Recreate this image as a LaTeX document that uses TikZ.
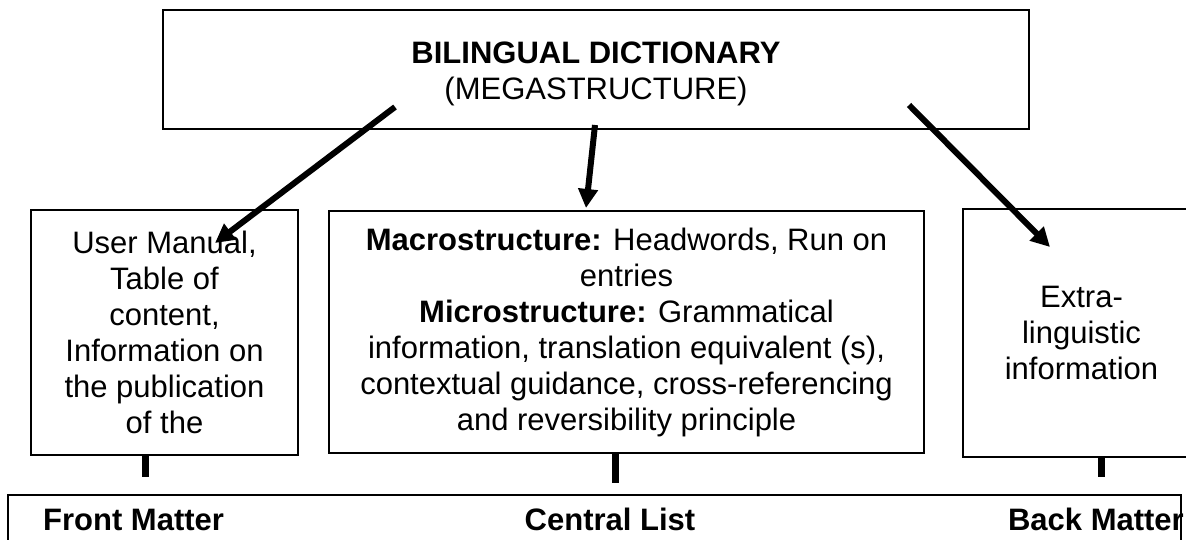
\documentclass[tikz,border=0pt]{standalone}
\usepackage{fontspec}
\setmainfont{Liberation Sans}
\usetikzlibrary{arrows.meta}
\begin{document}
\begin{tikzpicture}[x=1pt,y=-1pt,
  txt/.style={font=\fontsize{31}{36}\selectfont},
  box/.style={draw, line width=2pt, inner sep=0pt, align=center, txt},
  arr/.style={line width=6pt, -{Triangle[length=19pt,width=19pt]}},
  stem/.style={line width=7pt}]
  \clip (0,0) rectangle (1186,540);
  \fill[white] (0,0) rectangle (1186,540);

  % top box
  \node[box, minimum width=866pt, minimum height=119pt] (dict) at (596,69.5)
    {\rule{0pt}{31pt}\textbf{BILINGUAL DICTIONARY}\\(MEGASTRUCTURE)};

  % the three parts
  \node[box, minimum width=267pt, minimum height=245pt] (front) at (164.5,332.5)
    {User Manual,\\Table of\\content,\\Information on\\the publication\\of the};
  \node[box, minimum width=595pt, minimum height=242pt] (central) at (626.5,332)
    {\textbf{Macrostructure:} Headwords, Run on\\entries\\\textbf{Microstructure:} Grammatical\\information, translation equivalent (s),\\contextual guidance, cross-referencing\\and reversibility principle};
  \node[box, minimum width=237pt, minimum height=248pt] (back) at (1081.5,333)
    {Extra-\\linguistic\\information};

  % bottom band
  \node[draw, line width=2pt, inner sep=0pt, minimum width=1173pt, minimum height=100pt,
        anchor=north west] (band) at (7,494) {};
  \node[txt, font=\fontsize{31}{36}\selectfont\bfseries, anchor=base west, inner sep=0pt] (fm) at (43,530) {Front Matter};
  \node[txt, font=\fontsize{31}{36}\selectfont\bfseries, anchor=base, inner sep=0pt] (cl) at (610,530) {Central List};
  \node[txt, font=\fontsize{31}{36}\selectfont\bfseries, anchor=base east, inner sep=0pt] (bm) at (1184,530) {Back Matter};

  % arrow ends
  \coordinate (s1) at (395,107);
  \coordinate (t1) at (215,243);
  \coordinate (s2) at (595,125);
  \coordinate (t2) at (586,208);
  \coordinate (s3) at (909,105);
  \coordinate (t3) at (1050,247);
  \draw[arr] (s1) -- (t1);
  \draw[arr] (s2) -- (t2);
  \draw[arr] (s3) -- (t3);

  % short stems below the parts
  \coordinate (e1) at (145,477);
  \coordinate (e2) at (615,483);
  \coordinate (e3) at (1101,477);
  \draw[stem] (e1 |- front.south) -- (e1);
  \draw[stem] (e2 |- central.south) -- (e2);
  \draw[stem] (e3 |- back.south) -- (e3);
\end{tikzpicture}
\end{document}
